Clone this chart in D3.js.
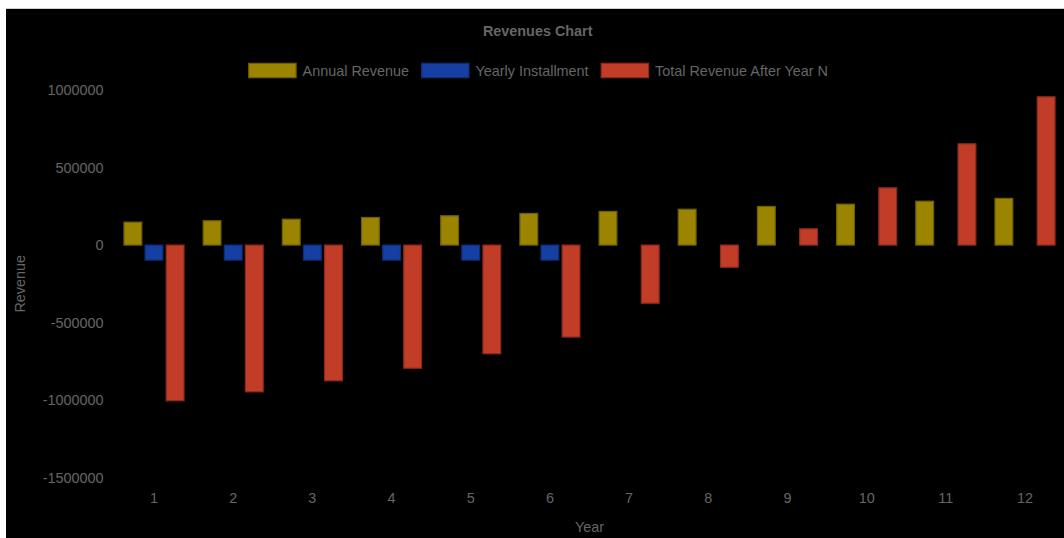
<!DOCTYPE html>
<html>
<head>
<meta charset="utf-8">
<script src="https://cdn.jsdelivr.net/npm/d3@7"></script>
<style>
  html, body { margin: 0; padding: 0; background: #ffffff; }
  svg { display: block; font-family: "Liberation Sans", Arial, Helvetica, sans-serif; }
</style>
</head>
<body>
<svg id="chart" width="1064" height="538"></svg>
<script>
const years = ["1","2","3","4","5","6","7","8","9","10","11","12"];
const annualRevenue = [148000, 157000, 167000, 178000, 189000, 204000, 217000, 231000, 249000, 264000, 283000, 301000];
const yearlyInstallment = [-97000, -97000, -97000, -97000, -97000, -97000, null, null, null, null, null, null];
const totalRevenue = [-1004000, -946000, -875000, -794000, -701000, -593000, -375000, -143000, 105000, 369000, 653000, 956000];
const yTicks = [-1500000, -1000000, -500000, 0, 500000, 1000000];
const seriesNames = ["Annual Revenue", "Yearly Installment", "Total Revenue After Year N"];
const seriesValues = [annualRevenue, yearlyInstallment, totalRevenue];
const seriesFill = ["#9a8400", "#163fa3", "#c13d27"];
const seriesStroke = ["#6e5f00", "#0f2c75", "#8c2b1b"];

const svg = d3.select("#chart");
const textColor = "#666666";

// dark background panel
svg.append("rect").attr("x", 6).attr("y", 9).attr("width", 1058).attr("height", 529).attr("fill", "#000000");
svg.append("line").attr("x1", 6).attr("x2", 1064).attr("y1", 8.5).attr("y2", 8.5).attr("stroke", "#cfcfcf").attr("stroke-width", 1);

const plot = { left: 114.4, right: 1064.6, top: 90, bottom: 477.7 };

const x = d3.scaleBand().domain(years).range([plot.left, plot.right]).paddingInner(0).paddingOuter(0);
const bw = x.bandwidth();
const xs = d3.scaleBand().domain(seriesNames).range([bw * 0.1, bw * 0.9]).paddingInner(0.1).paddingOuter(0.05);
const y = d3.scaleLinear().domain([-1500000, 1000000]).range([plot.bottom, plot.top]);

// title
svg.append("text").attr("x", 537.7).attr("y", 31).attr("text-anchor", "middle").attr("dominant-baseline", "central")
  .attr("font-size", 14.4).attr("font-weight", "bold").attr("fill", textColor).text("Revenues Chart");

// legend
const legendY = 70.5;
const legend = svg.append("g");
let lx = 0;
seriesNames.forEach((name, i) => {
  const g = legend.append("g");
  g.append("rect").attr("x", lx + 0.6).attr("y", legendY - 7.2).attr("width", 47.4).attr("height", 14.4)
    .attr("fill", seriesFill[i]).attr("stroke", seriesStroke[i]).attr("stroke-width", 1.2);
  const t = g.append("text").attr("x", lx + 54.5).attr("y", legendY).attr("dominant-baseline", "central")
    .attr("font-size", 14.4).attr("fill", textColor).text(name);
  const w = t.node().getComputedTextLength();
  lx += 54.5 + w + 12;
});
const totalW = lx - 12;
legend.attr("transform", `translate(${538 - totalW / 2},0)`);

// y axis labels
const yAxis = d3.axisLeft(y).tickValues(yTicks).tickSize(0).tickPadding(0).tickFormat(d => String(d));
const gy = svg.append("g").attr("transform", `translate(103.5,0)`).call(yAxis);
gy.select(".domain").remove();
gy.selectAll("text").attr("font-size", 14.4).attr("fill", textColor).attr("font-family", "Liberation Sans, Arial, sans-serif");

// x axis labels
const xAxis = d3.axisBottom(x).tickSize(0).tickPadding(0);
const gx = svg.append("g").attr("transform", `translate(0,492.5)`).call(xAxis);
gx.select(".domain").remove();
gx.selectAll("text").attr("font-size", 14.4).attr("fill", textColor).attr("font-family", "Liberation Sans, Arial, sans-serif");

// axis titles
svg.append("text").attr("x", 589.5).attr("y", 527).attr("text-anchor", "middle").attr("dominant-baseline", "central")
  .attr("font-size", 14.4).attr("fill", textColor).text("Year");
svg.append("text").attr("transform", "translate(20,283.8) rotate(-90)").attr("text-anchor", "middle").attr("dominant-baseline", "central")
  .attr("font-size", 14.4).attr("fill", textColor).text("Revenue");

// bars
seriesNames.forEach((name, i) => {
  const data = years.map((yr, j) => ({ yr, v: seriesValues[i][j] })).filter(d => d.v !== null);
  svg.append("g").selectAll("rect").data(data).join("rect")
    .attr("x", d => x(d.yr) + xs(name) + 0.6)
    .attr("width", xs.bandwidth() - 1.2)
    .attr("y", d => Math.min(y(d.v), y(0)))
    .attr("height", d => Math.abs(y(d.v) - y(0)))
    .attr("fill", seriesFill[i])
    .attr("stroke", seriesStroke[i])
    .attr("stroke-width", 1.2);
});
</script>
</body>
</html>
